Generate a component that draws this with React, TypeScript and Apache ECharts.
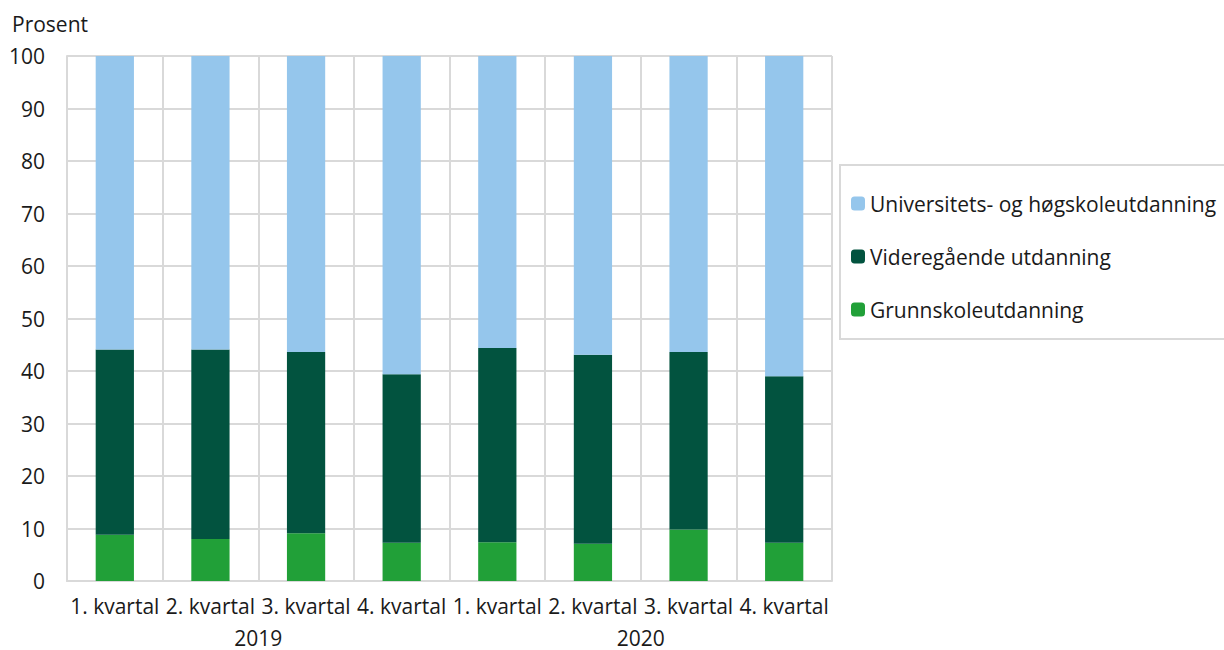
import React, { useEffect, useRef } from "react";
import * as echarts from "echarts";

const categories = ["1. kvartal", "2. kvartal", "3. kvartal", "4. kvartal", "1. kvartal", "2. kvartal", "3. kvartal", "4. kvartal"];
const years = ["2019", "2020"];
const quartersPerYear = 4;
const grunnskole = [8.8, 8.0, 9.1, 7.3, 7.4, 7.1, 9.8, 7.3];
const videregaende = [35.3, 36.1, 34.5, 32.1, 37.0, 36.0, 33.8, 31.7];
const universitet = [55.9, 55.9, 56.4, 60.6, 55.6, 56.9, 56.4, 61.0];
const yTicks = { min: 0, max: 100, interval: 10 };

const FONT = "'Open Sans', 'Noto Sans', sans-serif";
const TXT = "#1a1a1a";
const GRID = "#d9d9d9";
const FS = 21;

export default function App() {
  const ref = useRef<HTMLDivElement>(null);
  useEffect(() => {
    const chart = echarts.init(ref.current!, undefined, { renderer: "svg" });
    chart.setOption({
      animation: false,
      textStyle: { fontFamily: FONT, color: TXT },
      title: {
        text: "Prosent",
        left: 7,
        top: 8,
        textStyle: { fontFamily: FONT, fontSize: FS, fontWeight: "normal", color: TXT },
      },
      grid: { left: 67, right: 392, top: 56, bottom: 69, containLabel: false },
      legend: {
        orient: "vertical",
        left: 840,
        top: 165,
        data: ["Universitets- og høgskoleutdanning", "Videregående utdanning", "Grunnskoleutdanning"],
        itemWidth: 14,
        itemHeight: 14,
        itemGap: 32,
        padding: [28, 20, 19, 11],
        borderColor: GRID,
        borderWidth: 2,
        textStyle: { fontFamily: FONT, fontSize: FS, color: TXT, padding: [0, 0, 0, 0] },
      },
      xAxis: {
        type: "category",
        data: categories,
        axisLine: { lineStyle: { color: GRID, width: 2 } },
        axisTick: { show: false },
        splitLine: { show: true, lineStyle: { color: GRID, width: 2 } },
        axisLabel: { fontFamily: FONT, fontSize: FS, color: TXT, margin: 14, interval: 0 },
      },
      yAxis: {
        type: "value",
        min: yTicks.min,
        max: yTicks.max,
        interval: yTicks.interval,
        axisLine: { show: true, lineStyle: { color: GRID, width: 2 } },
        axisTick: { show: false },
        splitLine: { lineStyle: { color: GRID, width: 2 } },
        axisLabel: { fontFamily: FONT, fontSize: FS, color: TXT, margin: 22 },
      },
      series: [
        {
          name: "Grunnskoleutdanning",
          type: "bar",
          stack: "a",
          data: grunnskole,
          barWidth: "40%",
          itemStyle: { color: "#21a038" },
        },
        {
          name: "Videregående utdanning",
          type: "bar",
          stack: "a",
          data: videregaende,
          barWidth: "40%",
          itemStyle: { color: "#02533f" },
        },
        {
          name: "Universitets- og høgskoleutdanning",
          type: "bar",
          stack: "a",
          data: universitet,
          barWidth: "40%",
          itemStyle: { color: "#95c6ec" },
        },
      ],
    });
    const yearTexts = years.map((y, i) => {
      const first = chart.convertToPixel({ xAxisIndex: 0 }, i * quartersPerYear) as number;
      const last = chart.convertToPixel({ xAxisIndex: 0 }, i * quartersPerYear + quartersPerYear - 1) as number;
      return {
        type: "text",
        x: (first + last) / 2,
        y: 638,
        style: {
          text: y,
          fontFamily: FONT,
          fontSize: FS,
          lineHeight: 20,
          fill: TXT,
          align: "center",
          verticalAlign: "middle",
        },
      };
    });
    chart.setOption({ graphic: yearTexts });
    return () => chart.dispose();
  }, []);
  return <div ref={ref} style={{ width: 1224, height: 650, position: "absolute", left: 0, top: 0 }} />;
}
